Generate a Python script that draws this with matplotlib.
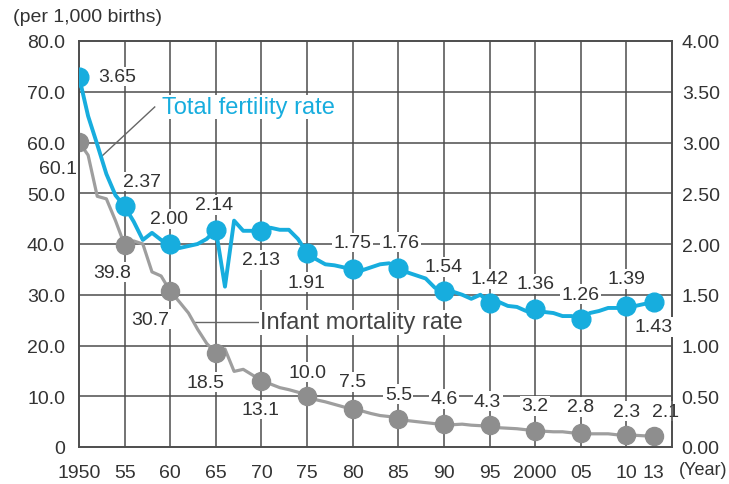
import matplotlib
matplotlib.use("Agg")
import matplotlib.pyplot as plt

plt.rcParams['font.family'] = ['Liberation Sans', 'DejaVu Sans']

# annual data, Japan 1950-2013
years = list(range(1950, 2014))
tfr = [3.65, 3.26, 2.98, 2.69, 2.48, 2.37, 2.22, 2.04, 2.11, 2.04,
       2.00, 1.96, 1.98, 2.00, 2.05, 2.14, 1.58, 2.23, 2.13, 2.13,
       2.13, 2.16, 2.14, 2.14, 2.05, 1.91, 1.85, 1.80, 1.79, 1.77,
       1.75, 1.74, 1.77, 1.80, 1.81, 1.76, 1.72, 1.69, 1.66, 1.57,
       1.54, 1.53, 1.50, 1.46, 1.50, 1.42, 1.43, 1.39, 1.38, 1.34,
       1.36, 1.33, 1.32, 1.29, 1.29, 1.26, 1.32, 1.34, 1.37, 1.37,
       1.39, 1.39, 1.41, 1.43]
imr = [60.1, 57.5, 49.4, 48.9, 44.6, 39.8, 40.6, 40.0, 34.5, 33.7,
       30.7, 28.6, 26.4, 23.2, 20.4, 18.5, 19.3, 14.9, 15.3, 14.2,
       13.1, 12.4, 11.7, 11.3, 10.8, 10.0, 9.3, 8.9, 8.4, 7.9,
       7.5, 7.1, 6.6, 6.2, 6.0, 5.5, 5.2, 5.0, 4.8, 4.6,
       4.6, 4.4, 4.5, 4.3, 4.2, 4.3, 3.8, 3.7, 3.6, 3.4,
       3.2, 3.1, 3.0, 3.0, 2.8, 2.8, 2.6, 2.6, 2.6, 2.4,
       2.3, 2.3, 2.2, 2.1]

mark_years = [1950, 1955, 1960, 1965, 1970, 1975, 1980, 1985, 1990,
              1995, 2000, 2005, 2010, 2013]
xtick_labels = ["1950", "55", "60", "65", "70", "75", "80", "85", "90",
                "95", "2000", "05", "10", "13"]

# label offsets in pixels from the marker
tfr_off = [(38, 0), (17, 25), (-1, 25), (-2, 25), (0, -29), (-1, -29),
           (0, 27), (2, 26), (0, 24), (0, 24), (0, 25), (0, 25), (0, 27), (0, -25)]
imr_off = [(-21, -27), (-12, -27), (-20, -28), (-10, -29), (-1, -29), (0, 24),
           (0, 27), (0, 25), (0, 25), (-2, 24), (0, 25), (0, 26), (0, 24), (12, 25)]

BLUE = '#17ADDE'
GRAY = '#8E8E8E'
TXT = '#333333'
GRID = '#4d4d4d'

fig = plt.figure(figsize=(7.29, 4.85), dpi=100)
ax = fig.add_axes([79/729, 1-448/485, (672-79)/729, (448-42)/485])
ax2 = ax.twinx()

ax.set_xlim(1950, 2015)
ax.set_ylim(0, 80)
ax2.set_ylim(0, 4)

ax.set_xticks(mark_years)
ax.set_xticklabels(xtick_labels)
ax.set_yticks(range(0, 90, 10))
ax.set_yticklabels(["0"] + ["%.1f" % v for v in range(10, 90, 10)])
ax2.set_yticks([i * 0.5 for i in range(9)])
ax2.set_yticklabels(["%.2f" % (i * 0.5) for i in range(9)])

for a in (ax, ax2):
    a.tick_params(length=0, labelsize=14, colors=TXT)
    for s in a.spines.values():
        s.set_color(GRID)
        s.set_linewidth(1.2)
ax.tick_params(axis='x', pad=12)
ax.tick_params(axis='y', pad=10)
ax2.tick_params(axis='y', pad=7)

# grid
for yr in range(1955, 2015, 5):
    ax.axvline(yr, color=GRID, lw=1.1, zorder=1)
for v in range(10, 80, 10):
    ax.axhline(v, color=GRID, lw=1.1, zorder=1)

# lines
ax.plot(years, imr, color='#9E9E9E', lw=2.3, zorder=4)
mi = [years.index(y) for y in mark_years]
ax.plot(mark_years, [imr[i] for i in mi], 'o', color=GRAY, ms=13, zorder=5)
ax2.plot(years, tfr, color=BLUE, lw=2.8, zorder=4)
ax2.plot(mark_years, [tfr[i] for i in mi], 'o', color=BLUE, ms=13.5, zorder=5)

box = dict(fc='white', ec='none', pad=1)
for k, i in enumerate(mi):
    ax.annotate("%.1f" % imr[i], (mark_years[k], imr[i]), xytext=imr_off[k],
                textcoords='offset pixels', ha='center', va='center',
                fontsize=14, color=TXT, bbox=box, zorder=3, annotation_clip=False)
    ax2.annotate("%.2f" % tfr[i], (mark_years[k], tfr[i]), xytext=tfr_off[k],
                 textcoords='offset pixels', ha='center', va='center',
                 fontsize=14, color=TXT, bbox=box, zorder=3, annotation_clip=False)

# series labels with leader lines
ax.plot([1952.5, 1958.3], [57.3, 67.0], color='#666666', lw=1.0, zorder=3)
ax.text(1959.1, 67.0, "Total fertility rate", color=BLUE, fontsize=17,
        ha='left', va='center', bbox=box, zorder=3)
ax.plot([1962.6, 1969.6], [24.6, 24.6], color='#666666', lw=1.0, zorder=3)
ax.text(1969.85, 24.6, "Infant mortality rate", color='#444444', fontsize=17,
        ha='left', va='center', bbox=box, zorder=3)

fig.text(13/729, 1-18/485, "(per 1,000 births)", fontsize=14, color=TXT,
         ha='left', va='center')
fig.text(727/729, 1-471/485, "(Year)", fontsize=13, color=TXT,
         ha='right', va='center')

fig.savefig("out.png", dpi=100)
